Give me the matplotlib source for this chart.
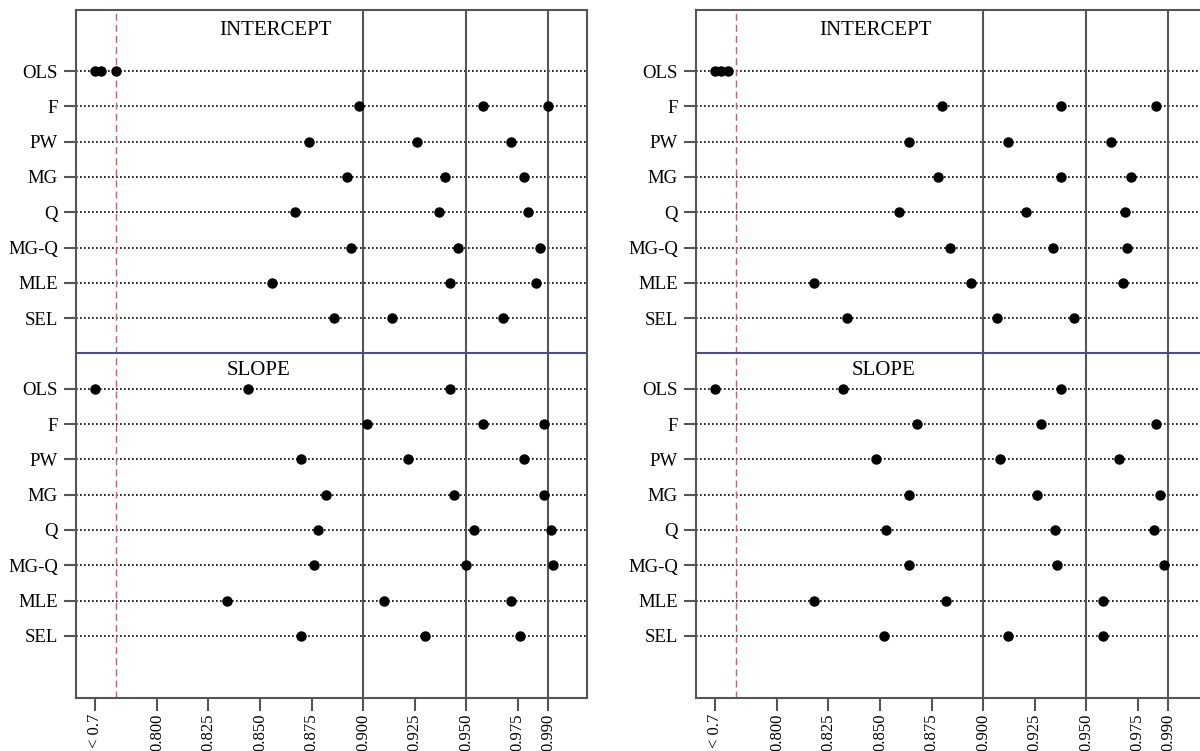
import matplotlib
matplotlib.use("Agg")
import matplotlib.pyplot as plt

methods = ["OLS", "F", "PW", "MG", "Q", "MG-Q", "MLE", "SEL"]
tick_pos = [0.770, 0.800, 0.825, 0.850, 0.875, 0.900, 0.925, 0.950, 0.975, 0.990]
tick_labels = ["< 0.7", "0.800", "0.825", "0.850", "0.875", "0.900",
               "0.925", "0.950", "0.975", "0.990"]
ref_lines = [0.900, 0.950, 0.990]
break_at = 0.780

# left panel
left_intercept = [
    [0.770, 0.773, 0.780],
    [0.898, 0.958, 0.990],
    [0.874, 0.926, 0.972],
    [0.892, 0.940, 0.978],
    [0.867, 0.937, 0.980],
    [0.894, 0.946, 0.986],
    [0.856, 0.942, 0.984],
    [0.886, 0.914, 0.968],
]
left_slope = [
    [0.770, 0.844, 0.942],
    [0.902, 0.958, 0.988],
    [0.870, 0.922, 0.978],
    [0.882, 0.944, 0.988],
    [0.878, 0.954, 0.991],
    [0.876, 0.950, 0.992],
    [0.834, 0.910, 0.972],
    [0.870, 0.930, 0.976],
]

# right panel
right_intercept = [
    [0.770, 0.773, 0.776],
    [0.880, 0.938, 0.984],
    [0.864, 0.912, 0.962],
    [0.878, 0.938, 0.972],
    [0.859, 0.921, 0.969],
    [0.884, 0.934, 0.970],
    [0.818, 0.894, 0.968],
    [0.834, 0.907, 0.944],
]
right_slope = [
    [0.770, 0.832, 0.938],
    [0.868, 0.928, 0.984],
    [0.848, 0.908, 0.966],
    [0.864, 0.926, 0.986],
    [0.853, 0.935, 0.983],
    [0.864, 0.936, 0.988],
    [0.818, 0.882, 0.958],
    [0.852, 0.912, 0.958],
]

panels = [(left_intercept, left_slope), (right_intercept, right_slope)]
title_x = [(0.8573, 0.8495), (0.8476, 0.8515)]

plt.rcParams["font.family"] = ["Liberation Serif", "DejaVu Serif"]
frame_col = "#555555"

fig = plt.figure(figsize=(12, 7.51), dpi=100)
W, H = 1200, 751
for k, (inter, slope) in enumerate(panels):
    x0 = 76 + 620 * k
    ax = fig.add_axes([x0 / W, 1 - 698 / H, 511 / W, 688 / H])
    ax.set_xlim(0.7607, 1.0087)
    ax.set_ylim(17.76, -1.73)

    rows_i = list(range(8))
    rows_s = list(range(9, 17))
    for r in rows_i + rows_s:
        ax.axhline(r, color="black", lw=1.2, ls=(0, (1, 1.4)), zorder=1)
    for v in ref_lines:
        ax.axvline(v, color=frame_col, lw=1.5, zorder=2)
    ax.axvline(break_at, color="#b06a6a", lw=1.0, ls=(0, (5, 3)), zorder=2)
    ax.axhline(8, color="#4b4b8f", lw=1.5, zorder=2)

    for r, vals in zip(rows_i, inter):
        ax.plot(vals, [r] * len(vals), "o", color="black", ms=6.5, zorder=3)
    for r, vals in zip(rows_s, slope):
        ax.plot(vals, [r] * len(vals), "o", color="black", ms=6.5, zorder=3)

    ti, ts = title_x[k]
    ax.text(ti, -1.16, "INTERCEPT", ha="center", va="center", fontsize=15)
    ax.text(ts, 8.47, "SLOPE", ha="center", va="center", fontsize=15)

    ax.set_yticks(rows_i + rows_s)
    ax.set_yticklabels(methods + methods)
    ax.set_xticks(tick_pos)
    ax.set_xticklabels(tick_labels, rotation=90, va="top")
    ax.tick_params(axis="both", direction="out", length=9, width=1.5,
                   color=frame_col)
    ax.tick_params(axis="y", labelsize=13.5, pad=4)
    ax.tick_params(axis="x", labelsize=12, pad=2)
    for s in ax.spines.values():
        s.set_color(frame_col)
        s.set_linewidth(1.5)

fig.savefig("out.png", dpi=100)
